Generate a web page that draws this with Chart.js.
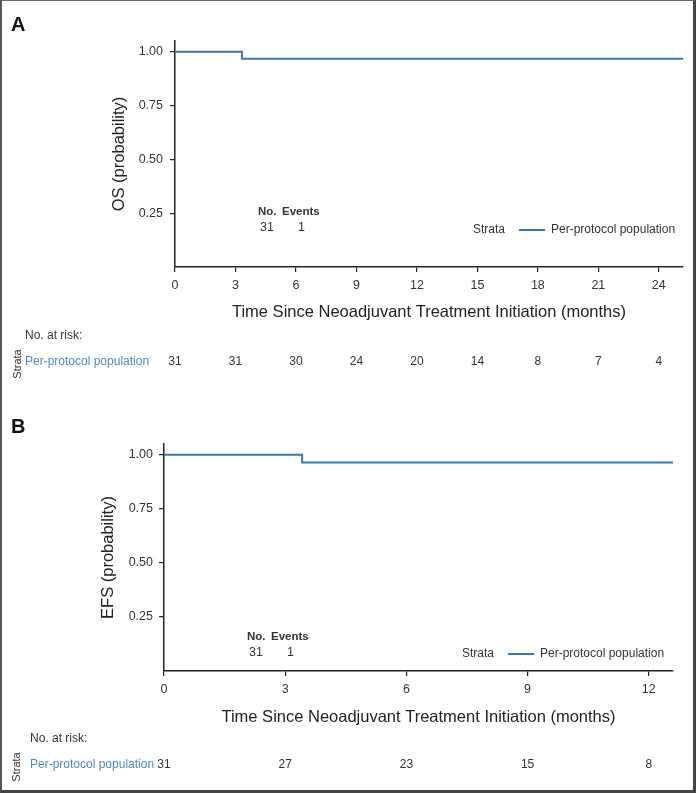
<!DOCTYPE html>
<html><head><meta charset="utf-8">
<script src="https://cdn.jsdelivr.net/npm/chart.js@4/dist/chart.umd.min.js"></script>
<style>
html,body{margin:0;padding:0;background:#fff;}
#wrap{position:relative;width:696px;height:793px;overflow:hidden;background:#fff;}
#frame{position:absolute;left:0;top:0;width:691px;height:789px;border-left:2px solid #555;border-top:1px solid #666;border-right:3px solid #444;border-bottom:3px solid #444;pointer-events:none;}
canvas{position:absolute;left:0;}
#cA{top:0;}
#cB{top:395px;}
</style></head><body>
<div id="wrap">
<canvas id="cA" width="696" height="395"></canvas>
<canvas id="cB" width="696" height="398"></canvas>
<div id="frame"></div>
</div>
<script>
// ---- data ----
const osTime = [0, 3.32, 25.2];
const osProb = [1.0, 0.968, 0.968];
const osTicksX = [0, 3, 6, 9, 12, 15, 18, 21, 24];
const osAtRisk = [31, 31, 30, 24, 20, 14, 8, 7, 4];
const osSummary = [31, 1]; // No., Events

const efsTime = [0, 3.42, 12.6];
const efsProb = [1.0, 0.964, 0.964];
const efsTicksX = [0, 3, 6, 9, 12];
const efsAtRisk = [31, 27, 23, 15, 8];
const efsSummary = [31, 1];

const yTicks = [0.25, 0.50, 0.75, 1.00];
const strataName = 'Per-protocol population';

// ---- style ----
const FONT = "'Liberation Sans', Arial, Helvetica, sans-serif";
const LINE = '#3a78b5';
const RISKBLUE = '#4a8ac6';
const TXT = '#333333';
const AX = '#222222';

function kmPlugin(o) {
  return {
    id: 'kmExtras',
    afterDraw(chart) {
      const ctx = chart.ctx;
      const xs = chart.scales.x;
      ctx.save();
      // panel letter
      ctx.fillStyle = '#111';
      ctx.font = 'bold 20px ' + FONT;
      ctx.textBaseline = 'middle';
      ctx.textAlign = 'left';
      ctx.fillText(o.letter, 11, o.letterY);
      // summary
      ctx.fillStyle = TXT;
      ctx.font = 'bold 11.5px ' + FONT;
      ctx.fillText('No.', o.sumX, o.sumY);
      ctx.fillText('Events', o.sumX + 24, o.sumY);
      ctx.font = '12.5px ' + FONT;
      ctx.fillText(String(o.summary[0]), o.sumX + 2, o.sumY + 16);
      ctx.fillText(String(o.summary[1]), o.sumX + 40, o.sumY + 16);
      // legend
      ctx.font = '12px ' + FONT;
      ctx.fillStyle = TXT;
      ctx.fillText('Strata', o.legX, o.legY);
      ctx.strokeStyle = LINE;
      ctx.lineWidth = 2;
      ctx.beginPath();
      ctx.moveTo(o.legX + 46, o.legY);
      ctx.lineTo(o.legX + 72, o.legY);
      ctx.stroke();
      ctx.fillText(strataName, o.legX + 78, o.legY);
      // risk table
      ctx.fillStyle = TXT;
      ctx.font = '12px ' + FONT;
      ctx.fillText('No. at risk:', o.riskX, o.riskHeadY);
      ctx.fillStyle = RISKBLUE;
      ctx.fillText(strataName, o.riskX, o.riskRowY);
      ctx.fillStyle = TXT;
      ctx.textAlign = 'center';
      o.ticks.forEach((t, i) => {
        ctx.fillText(String(o.atRisk[i]), xs.getPixelForValue(t), o.riskRowY);
      });
      // rotated Strata
      ctx.save();
      ctx.translate(o.strataX, o.riskRowY + 2);
      ctx.rotate(-Math.PI / 2);
      ctx.font = '11px ' + FONT;
      ctx.textAlign = 'center';
      ctx.fillText('Strata', 0, 0);
      ctx.restore();
      ctx.restore();
    }
  };
}

function makeKM(id, o) {
  const pts = o.time.map((t, i) => ({x: t, y: o.prob[i]}));
  return new Chart(document.getElementById(id), {
    type: 'line',
    data: {datasets: [{
      label: strataName,
      data: pts,
      borderColor: LINE,
      borderWidth: 2,
      pointRadius: 0,
      stepped: true,
      fill: false
    }]},
    options: {
      responsive: false,
      animation: false,
      events: [],
      layout: {padding: {left: o.padL, right: o.padR, top: o.padT, bottom: o.padB}},
      plugins: {legend: {display: false}, tooltip: {enabled: false}, title: {display: false}},
      scales: {
        x: {
          type: 'linear', min: 0, max: o.xMax,
          afterBuildTicks: s => { s.ticks = o.ticks.map(v => ({value: v})); },
          afterFit: s => { s.height = o.xH; },
          ticks: {color: TXT, font: {size: 12.5, family: FONT}, padding: 6, maxRotation: 0, autoSkip: false},
          grid: {display: true, drawOnChartArea: false, drawTicks: true, tickLength: 5, color: AX, lineWidth: 1.2},
          border: {display: true, color: AX, width: 1.5},
          title: {display: true, text: 'Time Since Neoadjuvant Treatment Initiation (months)', color: '#222',
                  font: {size: 16.5, family: FONT}, padding: {top: 0, bottom: 0}}
        },
        y: {
          type: 'linear', min: 0, max: 1.05,
          afterBuildTicks: s => { s.ticks = yTicks.map(v => ({value: v})); },
          afterFit: s => { s.width = o.yW; },
          ticks: {color: TXT, font: {size: 12.5, family: FONT}, padding: o.yPad, callback: v => Number(v).toFixed(2)},
          grid: {display: true, drawOnChartArea: false, drawTicks: true, tickLength: 5, color: AX, lineWidth: 1.2},
          border: {display: true, color: AX, width: 1.5},
          title: {display: true, text: o.yTitle, color: '#222',
                  font: {size: 16.5, family: FONT}, padding: {top: 0, bottom: 0}}
        }
      }
    },
    plugins: [kmPlugin(o)]
  });
}

makeKM('cA', {
  time: osTime, prob: osProb, ticks: osTicksX, atRisk: osAtRisk, summary: osSummary,
  xMax: 25.2, yTitle: 'OS (probability)',
  padL: 109.5, padR: 13, padT: 41, padB: 72.4, yW: 65.5, xH: 55.6, yPad: 7,
  letter: 'A', letterY: 25,
  sumX: 258, sumY: 212,
  legX: 473, legY: 230,
  riskX: 25, riskHeadY: 336, riskRowY: 362, strataX: 18
});

makeKM('cB', {
  time: efsTime, prob: efsProb, ticks: efsTicksX, atRisk: efsAtRisk, summary: efsSummary,
  xMax: 12.6, yTitle: 'EFS (probability)',
  padL: 99, padR: 23, padT: 49, padB: 65.4, yW: 65, xH: 56.6, yPad: 6,
  letter: 'B', letterY: 32,
  sumX: 247, sumY: 242,
  legX: 462, legY: 259,
  riskX: 30, riskHeadY: 344, riskRowY: 370, strataX: 17
});
</script>
</body></html>
